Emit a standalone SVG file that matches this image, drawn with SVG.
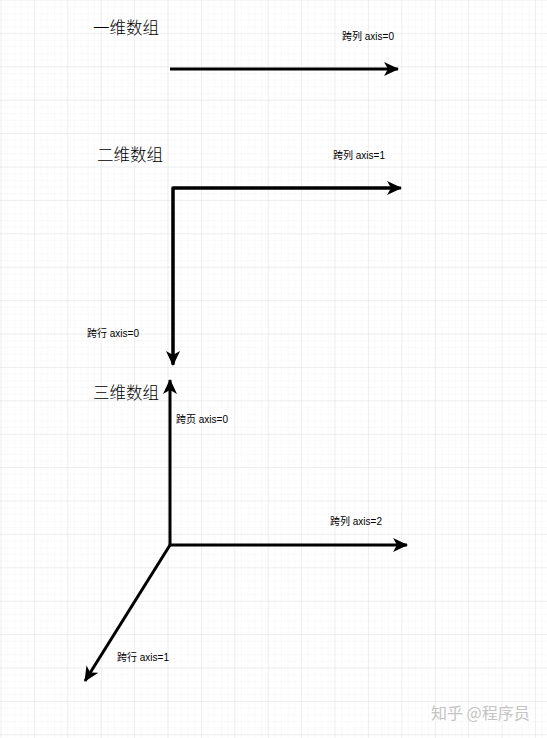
<svg xmlns="http://www.w3.org/2000/svg" width="547" height="738" viewBox="0 0 547 738">
<style>
.t{font-family:"Liberation Sans","Noto Sans CJK SC",sans-serif;fill:#000}
.title{font-size:16.5px;font-weight:300}
.lbl{font-size:10px}
.ax{stroke:#000;stroke-width:3;fill:none;marker-end:url(#arr)}
.wm{font-family:"Noto Sans CJK SC",sans-serif;font-size:16px;fill:#c4c4c4}
</style>
<defs>
<pattern id="minor" width="6.68" height="6.68" patternUnits="userSpaceOnUse" x="1.5" y="0.5">
<path d="M6.68 0V6.68H0" fill="none" stroke="#f5f5f5" stroke-width="1"/>
</pattern>
<pattern id="major" width="33.4" height="33.4" patternUnits="userSpaceOnUse" x="1.5" y="0.5">
<path d="M33.4 0V33.4H0" fill="none" stroke="#e2e2e2" stroke-width="1"/>
</pattern>
<marker id="arr" markerUnits="userSpaceOnUse" markerWidth="18" markerHeight="16" refX="14" refY="7" orient="auto">
<path d="M0 0L15 7L0 14L4 7Z" fill="#000"/>
</marker>
</defs>
<rect width="547" height="738" fill="#fff"/>
<rect width="547" height="738" fill="url(#minor)"/>
<rect width="547" height="738" fill="url(#major)"/>
<g id="connectors">
<path class="ax" d="M170 69H398"/>
<path d="M173 364V188H390" stroke="#000" stroke-width="3" fill="none"/>
<path class="ax" d="M173 188H401"/>
<path class="ax" d="M173 188V365"/>
<path class="ax" d="M170 545V380"/>
<path class="ax" d="M170 545H407"/>
<path class="ax" d="M170 545L85 681"/>
</g>
<g id="n1d"><text class="t title" x="93" y="34">一维数组</text></g>
<g id="l1"><text class="t lbl" x="342" y="40">跨列 axis=0</text></g>
<g id="n2d"><text class="t title" x="97" y="161">二维数组</text></g>
<g id="l2"><text class="t lbl" x="333" y="159">跨列 axis=1</text></g>
<g id="l3"><text class="t lbl" x="87" y="337">跨行 axis=0</text></g>
<g id="n3d"><text class="t title" x="93" y="399">三维数组</text></g>
<g id="l4"><text class="t lbl" x="176" y="423">跨页 axis=0</text></g>
<g id="l5"><text class="t lbl" x="330" y="525">跨列 axis=2</text></g>
<g id="l6"><text class="t lbl" x="117" y="661">跨行 axis=1</text></g>
<text class="wm" x="431" y="719">知乎 @程序员</text>
</svg>
